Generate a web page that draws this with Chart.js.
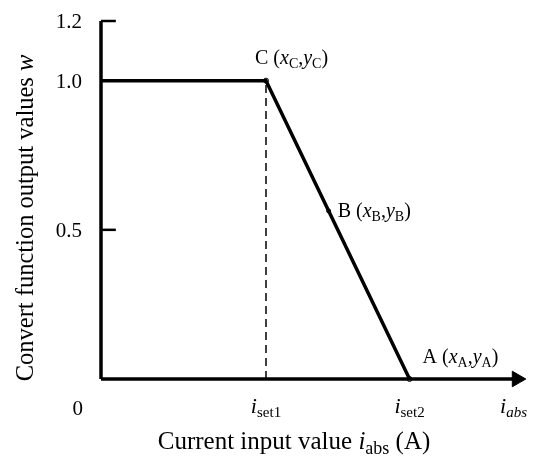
<!DOCTYPE html>
<html>
<head>
<meta charset="utf-8">
<script src="https://cdn.jsdelivr.net/npm/chart.js@4.4.0/dist/chart.umd.min.js"></script>
<style>
  body { margin: 0; background: #fff; }
  #wrap { width: 550px; height: 467px; }
</style>
</head>
<body>
<div id="wrap"><canvas id="chart" width="550" height="467"></canvas></div>
<script>
// convert function: w vs |i|
const curveX = [0, 1, 1.87];
const curveY = [1, 1, 0];
const pointNames = ["C", "B", "A"];
const pointX = [1, 1.38, 1.87];
const pointY = [1, 0.563, 0];
const yTickValues = [1.2, 1.0, 0.5];
const xTickValues = [1, 1.87, 2.5];
const xTickSubs = ["set1", "set2", "abs"];
const xMax = 2.6;
const yMax = 1.2;
const arrowX = 2.52;

const FONT = "'Liberation Serif', 'Times New Roman', serif";

// draw text made of parts: [text, italic, sub]
function setFont(ctx, p, size) {
  const s = p[2] ? Math.round(size * 0.7) : size;
  ctx.font = (p[1] ? "italic " : "") + s + "px " + FONT;
}
function richText(ctx, parts, x, y, align, size) {
  let w = 0;
  parts.forEach(p => { setFont(ctx, p, size); w += ctx.measureText(p[0]).width; });
  let cx = align === "center" ? x - w / 2 : (align === "right" ? x - w : x);
  ctx.textBaseline = "alphabetic";
  ctx.textAlign = "left";
  parts.forEach(p => {
    setFont(ctx, p, size);
    ctx.fillText(p[0], cx, y + (p[2] ? size * 0.2 : 0));
    cx += ctx.measureText(p[0]).width;
  });
}

const labelsPlugin = {
  id: "labels",
  afterDraw(chart) {
    const ctx = chart.ctx;
    const xs = chart.scales.x, ys = chart.scales.y;
    ctx.save();
    ctx.fillStyle = "#000";
    // y tick labels
    yTickValues.forEach(v => {
      richText(ctx, [[v.toFixed(1)]], xs.getPixelForValue(0) - 19, ys.getPixelForValue(v) + 7, "right", 21);
    });
    richText(ctx, [["0"]], xs.getPixelForValue(0) - 18, ys.getPixelForValue(0) + 36, "right", 21);
    // x tick labels
    xTickValues.forEach((v, i) => {
      richText(ctx, [["i", true], [xTickSubs[i], i === 2, true]], xs.getPixelForValue(v), ys.getPixelForValue(0) + 34, "center", 22);
    });
    // point labels
    const offs = [[-11, -17], [9, 6], [13, -16]];
    pointNames.forEach((n, i) => {
      const px = xs.getPixelForValue(pointX[i]) + offs[i][0];
      const py = ys.getPixelForValue(pointY[i]) + offs[i][1];
      richText(ctx, [[n + " ("], ["x", true], [n, false, true], [","], ["y", true], [n, false, true], [")"]], px, py, "left", 20);
    });
    // axis titles
    richText(ctx, [["Current input value "], ["i", true], ["abs", false, true], [" (A)"]], 294, 449, "center", 25);
    ctx.translate(33, 218);
    ctx.rotate(-Math.PI / 2);
    richText(ctx, [["Convert function output values "], ["w", true]], 0, 0, "center", 24.5);
    ctx.restore();
  }
};

const line = (data, extra) => Object.assign({
  type: "line", data, borderColor: "#000", borderWidth: 3.5, pointRadius: 0, fill: false, clip: false
}, extra);

new Chart(document.getElementById("chart"), {
  type: "line",
  data: {
    datasets: [
      line([{x: 0, y: 0}, {x: 0, y: yMax}]),
      line([{x: 0, y: 0}, {x: arrowX, y: 0}]),
      line([{x: 0, y: 1.2}, {x: 0.09, y: 1.2}], {borderWidth: 2.5}),
      line([{x: 0, y: 0.5}, {x: 0.09, y: 0.5}], {borderWidth: 2.5}),
      line([{x: pointX[0], y: 0}, {x: pointX[0], y: 1}], {borderWidth: 1.5, borderDash: [8, 5]}),
      line(curveX.map((x, i) => ({x, y: curveY[i]}))),
      line([{x: arrowX, y: 0}], {pointStyle: "triangle", rotation: 90, pointRadius: 9, backgroundColor: "#000", borderWidth: 1}),
      line(pointX.map((x, i) => ({x, y: pointY[i]})), {
        showLine: false, pointRadius: [2.5, 2, 2.5], borderWidth: 1,
        backgroundColor: ["#fff", "#000", "#fff"]
      })
    ]
  },
  options: {
    responsive: false,
    animation: false,
    layout: { padding: { left: 101, right: 550 - 101 - xMax * 165, top: 21, bottom: 88 } },
    plugins: { legend: { display: false }, tooltip: { enabled: false } },
    scales: {
      x: { type: "linear", min: 0, max: xMax, display: false },
      y: { type: "linear", min: 0, max: yMax, display: false }
    }
  },
  plugins: [labelsPlugin]
});
</script>
</body>
</html>
